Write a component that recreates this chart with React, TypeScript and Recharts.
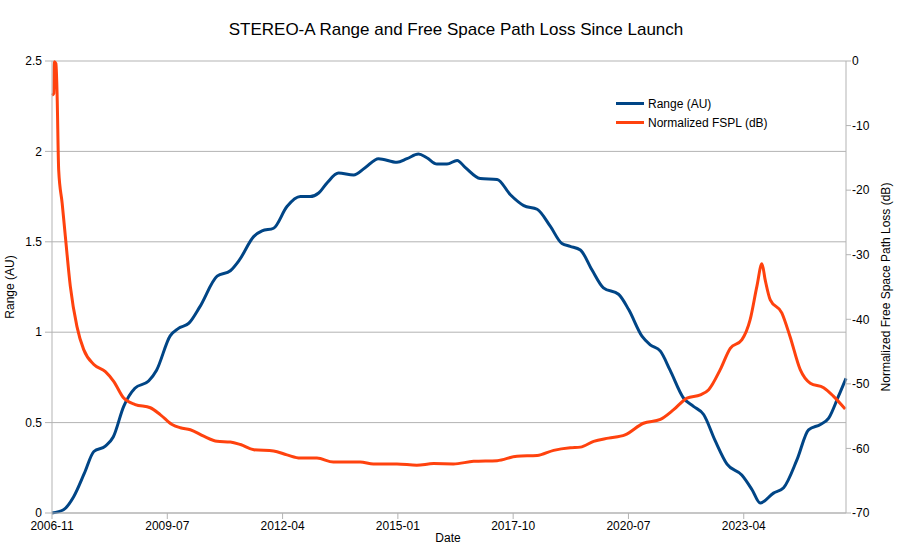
import { LineChart, Line, XAxis, YAxis, CartesianGrid, Legend } from 'recharts';

// days since 2006-11-01
const rangeDays = [
  0, 100, 188, 281, 363, 463, 531, 622, 719, 838, 907, 1025, 1094, 1188, 1282, 1432, 1547, 1626, 1751, 1822,
  1922, 2038, 2154, 2238, 2313, 2385, 2485, 2616, 2716, 2832, 2992, 3079, 3179, 3251, 3339, 3426, 3514, 3586,
  3714, 3861, 3976, 4092, 4208, 4323, 4423, 4495, 4583, 4683, 4783, 4914, 5002, 5117, 5189, 5277, 5361, 5477,
  5564, 5652, 5752, 5855, 5983, 6071, 6143, 6258, 6346, 6462, 6562, 6665, 6737, 6821, 6887,
];
const rangeAU = [
  0, 0.018, 0.09, 0.22, 0.34, 0.37, 0.42, 0.59, 0.69, 0.73, 0.79, 0.98, 1.02, 1.05, 1.14, 1.31, 1.34, 1.4, 1.53,
  1.56, 1.575, 1.695, 1.75, 1.75, 1.77, 1.825, 1.88, 1.87, 1.91, 1.96, 1.94, 1.96, 1.985, 1.965, 1.93, 1.93,
  1.95, 1.91, 1.85, 1.845, 1.76, 1.7, 1.68, 1.585, 1.49, 1.475, 1.455, 1.345, 1.245, 1.21, 1.125, 0.978, 0.93,
  0.895, 0.79, 0.636, 0.59, 0.545, 0.4, 0.27, 0.21, 0.13, 0.055, 0.11, 0.14, 0.295, 0.46, 0.49, 0.525, 0.645,
  0.745,
];

const fsplDays = [
  0, 16, 20, 34, 44, 58, 88, 116, 159, 216, 275, 363, 463, 535, 622, 722, 853, 941, 1041, 1113, 1200, 1316,
  1432, 1547, 1635, 1751, 1922, 2038, 2154, 2298, 2441, 2673, 2788, 2992, 3164, 3310, 3482, 3657, 3861, 4033,
  4208, 4351, 4495, 4583, 4698, 4827, 4970, 5130, 5277, 5392, 5508, 5624, 5696, 5796, 5883, 5983, 6055, 6114,
  6158, 6186, 6230, 6330, 6402, 6490, 6577, 6693, 6777, 6880,
];
const fsplDb = [
  -5.3, -5, -0.1, -0.4, -5, -16.9, -22, -27.2, -34.9, -41.1, -44.7, -47, -48.1, -49.6, -52.2, -53.2, -53.7,
  -54.8, -56.3, -56.8, -57.1, -58.1, -58.9, -59, -59.4, -60.2, -60.4, -61, -61.5, -61.5, -62.1, -62.1, -62.4,
  -62.4, -62.6, -62.35, -62.4, -62, -61.9, -61.2, -61.1, -60.3, -59.9, -59.8, -58.9, -58.4, -57.9, -56.1, -55.5,
  -54, -52.2, -51.7, -50.9, -47.8, -44.5, -43.2, -40.1, -34.9, -31.4, -33.9, -37, -39, -42.7, -47.8, -49.9,
  -50.6, -51.9, -53.9,
];

const xTicks = [0, 1000, 2000, 3000, 4000, 5000, 6000];
const auTicks = [0, 0.5, 1, 1.5, 2, 2.5];
const dbTicks = [-70, -60, -50, -40, -30, -20, -10, 0];

const rangeData = rangeDays.map((d, i) => ({ d, v: rangeAU[i] }));
const fsplData = fsplDays.map((d, i) => ({ d, v: fsplDb[i] }));

const BLUE = '#004586';
const ORANGE = '#ff420e';
const AXIS = '#b3b3b3';
const FONT = '"Liberation Sans", Arial, sans-serif';

const START = Date.UTC(2006, 10, 1);
const fmtDate = (d: number) => {
  const dt = new Date(START + d * 86400000);
  return `${dt.getUTCFullYear()}-${String(dt.getUTCMonth() + 1).padStart(2, '0')}`;
};

function LegendBox() {
  const items = [
    { name: 'Range (AU)', color: BLUE },
    { name: 'Normalized FSPL (dB)', color: ORANGE },
  ];
  return (
    <div style={{ fontFamily: FONT, fontSize: 12, color: '#000' }}>
      {items.map((it) => (
        <div key={it.name} style={{ display: 'flex', alignItems: 'center', height: 19 }}>
          <span style={{ display: 'inline-block', width: 28, height: 3, background: it.color, marginRight: 4 }} />
          <span>{it.name}</span>
        </div>
      ))}
    </div>
  );
}

export default function App() {
  return (
    <div style={{ position: 'fixed', left: 0, top: 0, width: 912, height: 548, background: '#fff', fontFamily: FONT }}>
      <div style={{ position: 'absolute', left: 0, width: 912, top: 20, textAlign: 'center', fontSize: 17, color: '#000' }}>
        STEREO-A Range and Free Space Path Loss Since Launch
      </div>
      <div style={{ position: 'absolute', left: 10, top: 287, fontSize: 12, transform: 'translate(-50%, -50%) rotate(-90deg)', whiteSpace: 'nowrap' }}>
        Range (AU)
      </div>
      <div style={{ position: 'absolute', left: 886, top: 287, fontSize: 12, transform: 'translate(-50%, -50%) rotate(-90deg)', whiteSpace: 'nowrap' }}>
        Normalized Free Space Path Loss (dB)
      </div>
      <div style={{ position: 'absolute', left: 448, top: 538, fontSize: 12, transform: 'translate(-50%, -50%)' }}>Date</div>
      <LineChart width={912} height={548} margin={{ top: 61, right: 0, bottom: 0, left: 0 }}>
        <CartesianGrid yAxisId="au" vertical={false} stroke={AXIS} strokeWidth={1} />
        <XAxis
          dataKey="d"
          type="number"
          domain={[0, 6887]}
          ticks={xTicks}
          tickFormatter={fmtDate}
          allowDuplicatedCategory={false}
          height={35}
          stroke={AXIS}
          tickSize={6}
          tickMargin={2}
          tick={{ fill: '#000', fontSize: 12, fontFamily: FONT }}
        />
        <YAxis
          yAxisId="au"
          orientation="left"
          width={52}
          domain={[0, 2.5]}
          ticks={auTicks}
          stroke={AXIS}
          tickSize={7}
          tickMargin={3}
          tick={{ fill: '#000', fontSize: 12, fontFamily: FONT }}
        />
        <YAxis
          yAxisId="db"
          orientation="right"
          width={66}
          domain={[-70, 0]}
          ticks={dbTicks}
          stroke={AXIS}
          tickSize={5}
          tickMargin={1}
          tick={{ fill: '#000', fontSize: 12, fontFamily: FONT }}
        />
        <Legend
          layout="horizontal"
          verticalAlign="middle"
          align="center"
          wrapperStyle={{ left: 616, top: 94, width: 200 }}
          content={() => <LegendBox />}
        />
        <Line
          yAxisId="au"
          data={rangeData}
          dataKey="v"
          name="Range (AU)"
          type="monotone"
          stroke={BLUE}
          strokeWidth={3}
          dot={false}
          isAnimationActive={false}
        />
        <Line
          yAxisId="db"
          data={fsplData}
          dataKey="v"
          name="Normalized FSPL (dB)"
          type="monotone"
          stroke={ORANGE}
          strokeWidth={3}
          dot={false}
          isAnimationActive={false}
        />
      </LineChart>
    </div>
  );
}
